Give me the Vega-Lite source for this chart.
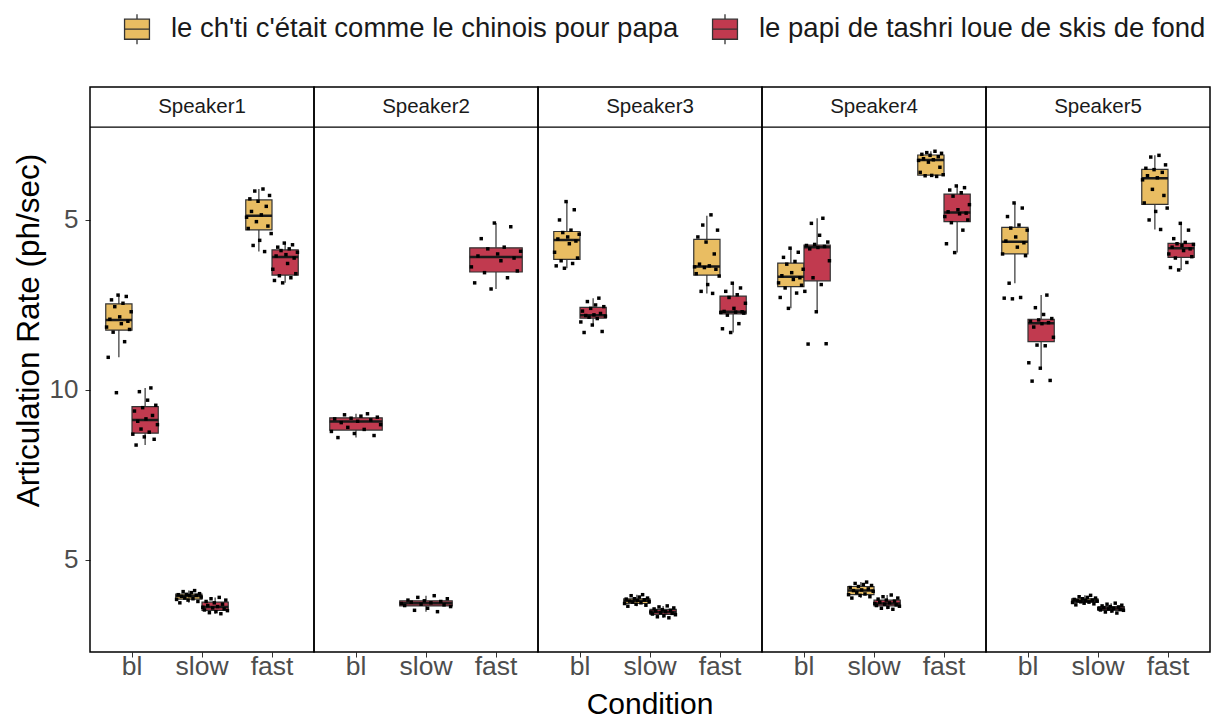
{
"$schema":"https://vega.github.io/schema/vega-lite/v6.json",
"background":"white",
"padding":{"left":13,"top":13,"right":0,"bottom":0},
"data":{"values":[
{"spk":"Speaker1","cond":"bl","sent":"A","lo":10.96,"q1":11.76,"med":12.06,"q3":12.53,"hi":12.79},
{"spk":"Speaker1","cond":"bl","sent":"B","lo":8.38,"q1":8.73,"med":9.12,"q3":9.51,"hi":10.06},
{"spk":"Speaker1","cond":"slow","sent":"A","lo":3.74,"q1":3.85,"med":3.94,"q3":4.0,"hi":4.1},
{"spk":"Speaker1","cond":"slow","sent":"B","lo":3.42,"q1":3.52,"med":3.62,"q3":3.76,"hi":3.9},
{"spk":"Speaker1","cond":"fast","sent":"A","lo":14.07,"q1":14.71,"med":15.12,"q3":15.59,"hi":15.91},
{"spk":"Speaker1","cond":"fast","sent":"B","lo":13.15,"q1":13.38,"med":13.91,"q3":14.12,"hi":14.32},
{"spk":"Speaker2","cond":"bl","sent":"B","lo":8.6,"q1":8.82,"med":9.07,"q3":9.18,"hi":9.3},
{"spk":"Speaker2","cond":"slow","sent":"B","lo":3.48,"q1":3.65,"med":3.73,"q3":3.8,"hi":3.95},
{"spk":"Speaker2","cond":"fast","sent":"B","lo":12.97,"q1":13.47,"med":13.91,"q3":14.18,"hi":14.91},
{"spk":"Speaker3","cond":"bl","sent":"A","lo":13.58,"q1":13.84,"med":14.41,"q3":14.66,"hi":15.54},
{"spk":"Speaker3","cond":"bl","sent":"B","lo":11.91,"q1":12.11,"med":12.2,"q3":12.43,"hi":12.7},
{"spk":"Speaker3","cond":"slow","sent":"A","lo":3.64,"q1":3.72,"med":3.8,"q3":3.86,"hi":3.98},
{"spk":"Speaker3","cond":"slow","sent":"B","lo":3.3,"q1":3.4,"med":3.47,"q3":3.55,"hi":3.65},
{"spk":"Speaker3","cond":"fast","sent":"A","lo":12.84,"q1":13.38,"med":13.63,"q3":14.43,"hi":15.12},
{"spk":"Speaker3","cond":"fast","sent":"B","lo":11.69,"q1":12.24,"med":12.3,"q3":12.76,"hi":13.14},
{"spk":"Speaker4","cond":"bl","sent":"A","lo":12.4,"q1":13.04,"med":13.33,"q3":13.73,"hi":14.17},
{"spk":"Speaker4","cond":"bl","sent":"B","lo":12.3,"q1":13.21,"med":14.2,"q3":14.26,"hi":15.05},
{"spk":"Speaker4","cond":"slow","sent":"A","lo":3.88,"q1":3.98,"med":4.1,"q3":4.22,"hi":4.35},
{"spk":"Speaker4","cond":"slow","sent":"B","lo":3.55,"q1":3.65,"med":3.72,"q3":3.82,"hi":3.97},
{"spk":"Speaker4","cond":"fast","sent":"A","lo":16.28,"q1":16.32,"med":16.76,"q3":16.91,"hi":17.02},
{"spk":"Speaker4","cond":"fast","sent":"B","lo":14.04,"q1":14.95,"med":15.22,"q3":15.76,"hi":16.0},
{"spk":"Speaker5","cond":"bl","sent":"A","lo":13.14,"q1":14.0,"med":14.36,"q3":14.78,"hi":15.5},
{"spk":"Speaker5","cond":"bl","sent":"B","lo":10.64,"q1":11.42,"med":11.96,"q3":12.08,"hi":12.79},
{"spk":"Speaker5","cond":"slow","sent":"A","lo":3.68,"q1":3.75,"med":3.8,"q3":3.86,"hi":3.96},
{"spk":"Speaker5","cond":"slow","sent":"B","lo":3.44,"q1":3.52,"med":3.57,"q3":3.63,"hi":3.73},
{"spk":"Speaker5","cond":"fast","sent":"A","lo":14.72,"q1":15.46,"med":16.23,"q3":16.49,"hi":16.9},
{"spk":"Speaker5","cond":"fast","sent":"B","lo":13.53,"q1":13.9,"med":14.17,"q3":14.31,"hi":14.9},
{"spk":"Speaker1","cond":"bl","sent":"A","tok":7,"rate":9.92},{"spk":"Speaker1","cond":"bl","sent":"A","tok":2,"rate":10.96},{"spk":"Speaker1","cond":"bl","sent":"A","tok":12,"rate":11.42},{"spk":"Speaker1","cond":"bl","sent":"A","tok":5,"rate":11.7},{"spk":"Speaker1","cond":"bl","sent":"A","tok":15,"rate":11.78},{"spk":"Speaker1","cond":"bl","sent":"A","tok":1,"rate":11.85},{"spk":"Speaker1","cond":"bl","sent":"A","tok":10,"rate":11.95},{"spk":"Speaker1","cond":"bl","sent":"A","tok":14,"rate":12.02},{"spk":"Speaker1","cond":"bl","sent":"A","tok":3,"rate":12.08},{"spk":"Speaker1","cond":"bl","sent":"A","tok":9,"rate":12.15},{"spk":"Speaker1","cond":"bl","sent":"A","tok":16,"rate":12.3},{"spk":"Speaker1","cond":"bl","sent":"A","tok":6,"rate":12.45},{"spk":"Speaker1","cond":"bl","sent":"A","tok":11,"rate":12.55},{"spk":"Speaker1","cond":"bl","sent":"A","tok":4,"rate":12.65},{"spk":"Speaker1","cond":"bl","sent":"A","tok":13,"rate":12.75},{"spk":"Speaker1","cond":"bl","sent":"A","tok":8,"rate":12.79},
{"spk":"Speaker1","cond":"bl","sent":"B","tok":19,"rate":8.38},{"spk":"Speaker1","cond":"bl","sent":"B","tok":30,"rate":8.55},{"spk":"Speaker1","cond":"bl","sent":"B","tok":24,"rate":8.62},{"spk":"Speaker1","cond":"bl","sent":"B","tok":17,"rate":8.7},{"spk":"Speaker1","cond":"bl","sent":"B","tok":27,"rate":8.76},{"spk":"Speaker1","cond":"bl","sent":"B","tok":22,"rate":8.85},{"spk":"Speaker1","cond":"bl","sent":"B","tok":32,"rate":8.98},{"spk":"Speaker1","cond":"bl","sent":"B","tok":20,"rate":9.08},{"spk":"Speaker1","cond":"bl","sent":"B","tok":25,"rate":9.15},{"spk":"Speaker1","cond":"bl","sent":"B","tok":29,"rate":9.25},{"spk":"Speaker1","cond":"bl","sent":"B","tok":18,"rate":9.38},{"spk":"Speaker1","cond":"bl","sent":"B","tok":23,"rate":9.48},{"spk":"Speaker1","cond":"bl","sent":"B","tok":31,"rate":9.55},{"spk":"Speaker1","cond":"bl","sent":"B","tok":26,"rate":9.7},{"spk":"Speaker1","cond":"bl","sent":"B","tok":21,"rate":9.95},{"spk":"Speaker1","cond":"bl","sent":"B","tok":28,"rate":10.06},
{"spk":"Speaker1","cond":"slow","sent":"A","tok":3,"rate":3.74},{"spk":"Speaker1","cond":"slow","sent":"A","tok":14,"rate":3.78},{"spk":"Speaker1","cond":"slow","sent":"A","tok":8,"rate":3.82},{"spk":"Speaker1","cond":"slow","sent":"A","tok":1,"rate":3.84},{"spk":"Speaker1","cond":"slow","sent":"A","tok":11,"rate":3.86},{"spk":"Speaker1","cond":"slow","sent":"A","tok":6,"rate":3.88},{"spk":"Speaker1","cond":"slow","sent":"A","tok":16,"rate":3.91},{"spk":"Speaker1","cond":"slow","sent":"A","tok":4,"rate":3.93},{"spk":"Speaker1","cond":"slow","sent":"A","tok":9,"rate":3.95},{"spk":"Speaker1","cond":"slow","sent":"A","tok":13,"rate":3.96},{"spk":"Speaker1","cond":"slow","sent":"A","tok":2,"rate":3.98},{"spk":"Speaker1","cond":"slow","sent":"A","tok":7,"rate":3.99},{"spk":"Speaker1","cond":"slow","sent":"A","tok":15,"rate":4.01},{"spk":"Speaker1","cond":"slow","sent":"A","tok":10,"rate":4.04},{"spk":"Speaker1","cond":"slow","sent":"A","tok":5,"rate":4.07},{"spk":"Speaker1","cond":"slow","sent":"A","tok":12,"rate":4.1},
{"spk":"Speaker1","cond":"slow","sent":"B","tok":28,"rate":3.42},{"spk":"Speaker1","cond":"slow","sent":"B","tok":21,"rate":3.45},{"spk":"Speaker1","cond":"slow","sent":"B","tok":25,"rate":3.48},{"spk":"Speaker1","cond":"slow","sent":"B","tok":32,"rate":3.51},{"spk":"Speaker1","cond":"slow","sent":"B","tok":18,"rate":3.53},{"spk":"Speaker1","cond":"slow","sent":"B","tok":30,"rate":3.56},{"spk":"Speaker1","cond":"slow","sent":"B","tok":23,"rate":3.59},{"spk":"Speaker1","cond":"slow","sent":"B","tok":17,"rate":3.61},{"spk":"Speaker1","cond":"slow","sent":"B","tok":26,"rate":3.63},{"spk":"Speaker1","cond":"slow","sent":"B","tok":20,"rate":3.66},{"spk":"Speaker1","cond":"slow","sent":"B","tok":29,"rate":3.7},{"spk":"Speaker1","cond":"slow","sent":"B","tok":24,"rate":3.74},{"spk":"Speaker1","cond":"slow","sent":"B","tok":19,"rate":3.78},{"spk":"Speaker1","cond":"slow","sent":"B","tok":31,"rate":3.82},{"spk":"Speaker1","cond":"slow","sent":"B","tok":22,"rate":3.86},{"spk":"Speaker1","cond":"slow","sent":"B","tok":27,"rate":3.9},
{"spk":"Speaker1","cond":"fast","sent":"A","tok":12,"rate":14.07},{"spk":"Speaker1","cond":"fast","sent":"A","tok":5,"rate":14.25},{"spk":"Speaker1","cond":"fast","sent":"A","tok":9,"rate":14.4},{"spk":"Speaker1","cond":"fast","sent":"A","tok":16,"rate":14.6},{"spk":"Speaker1","cond":"fast","sent":"A","tok":2,"rate":14.75},{"spk":"Speaker1","cond":"fast","sent":"A","tok":14,"rate":14.82},{"spk":"Speaker1","cond":"fast","sent":"A","tok":7,"rate":14.95},{"spk":"Speaker1","cond":"fast","sent":"A","tok":1,"rate":15.08},{"spk":"Speaker1","cond":"fast","sent":"A","tok":10,"rate":15.15},{"spk":"Speaker1","cond":"fast","sent":"A","tok":4,"rate":15.25},{"spk":"Speaker1","cond":"fast","sent":"A","tok":13,"rate":15.4},{"spk":"Speaker1","cond":"fast","sent":"A","tok":8,"rate":15.55},{"spk":"Speaker1","cond":"fast","sent":"A","tok":3,"rate":15.62},{"spk":"Speaker1","cond":"fast","sent":"A","tok":15,"rate":15.72},{"spk":"Speaker1","cond":"fast","sent":"A","tok":6,"rate":15.85},{"spk":"Speaker1","cond":"fast","sent":"A","tok":11,"rate":15.91},
{"spk":"Speaker1","cond":"fast","sent":"B","tok":23,"rate":13.15},{"spk":"Speaker1","cond":"fast","sent":"B","tok":18,"rate":13.22},{"spk":"Speaker1","cond":"fast","sent":"B","tok":28,"rate":13.3},{"spk":"Speaker1","cond":"fast","sent":"B","tok":21,"rate":13.36},{"spk":"Speaker1","cond":"fast","sent":"B","tok":31,"rate":13.42},{"spk":"Speaker1","cond":"fast","sent":"B","tok":17,"rate":13.55},{"spk":"Speaker1","cond":"fast","sent":"B","tok":26,"rate":13.72},{"spk":"Speaker1","cond":"fast","sent":"B","tok":30,"rate":13.88},{"spk":"Speaker1","cond":"fast","sent":"B","tok":19,"rate":13.94},{"spk":"Speaker1","cond":"fast","sent":"B","tok":25,"rate":13.98},{"spk":"Speaker1","cond":"fast","sent":"B","tok":32,"rate":14.05},{"spk":"Speaker1","cond":"fast","sent":"B","tok":22,"rate":14.1},{"spk":"Speaker1","cond":"fast","sent":"B","tok":27,"rate":14.15},{"spk":"Speaker1","cond":"fast","sent":"B","tok":20,"rate":14.2},{"spk":"Speaker1","cond":"fast","sent":"B","tok":29,"rate":14.27},{"spk":"Speaker1","cond":"fast","sent":"B","tok":24,"rate":14.32},
{"spk":"Speaker2","cond":"bl","sent":"B","tok":19,"rate":8.6},{"spk":"Speaker2","cond":"bl","sent":"B","tok":30,"rate":8.66},{"spk":"Speaker2","cond":"bl","sent":"B","tok":24,"rate":8.72},{"spk":"Speaker2","cond":"bl","sent":"B","tok":17,"rate":8.78},{"spk":"Speaker2","cond":"bl","sent":"B","tok":27,"rate":8.84},{"spk":"Speaker2","cond":"bl","sent":"B","tok":22,"rate":8.9},{"spk":"Speaker2","cond":"bl","sent":"B","tok":32,"rate":8.98},{"spk":"Speaker2","cond":"bl","sent":"B","tok":20,"rate":9.04},{"spk":"Speaker2","cond":"bl","sent":"B","tok":25,"rate":9.08},{"spk":"Speaker2","cond":"bl","sent":"B","tok":29,"rate":9.12},{"spk":"Speaker2","cond":"bl","sent":"B","tok":18,"rate":9.15},{"spk":"Speaker2","cond":"bl","sent":"B","tok":23,"rate":9.17},{"spk":"Speaker2","cond":"bl","sent":"B","tok":31,"rate":9.2},{"spk":"Speaker2","cond":"bl","sent":"B","tok":26,"rate":9.23},{"spk":"Speaker2","cond":"bl","sent":"B","tok":21,"rate":9.27},{"spk":"Speaker2","cond":"bl","sent":"B","tok":28,"rate":9.3},
{"spk":"Speaker2","cond":"slow","sent":"B","tok":28,"rate":3.48},{"spk":"Speaker2","cond":"slow","sent":"B","tok":21,"rate":3.52},{"spk":"Speaker2","cond":"slow","sent":"B","tok":25,"rate":3.58},{"spk":"Speaker2","cond":"slow","sent":"B","tok":32,"rate":3.63},{"spk":"Speaker2","cond":"slow","sent":"B","tok":18,"rate":3.66},{"spk":"Speaker2","cond":"slow","sent":"B","tok":30,"rate":3.68},{"spk":"Speaker2","cond":"slow","sent":"B","tok":23,"rate":3.7},{"spk":"Speaker2","cond":"slow","sent":"B","tok":17,"rate":3.72},{"spk":"Speaker2","cond":"slow","sent":"B","tok":26,"rate":3.74},{"spk":"Speaker2","cond":"slow","sent":"B","tok":20,"rate":3.76},{"spk":"Speaker2","cond":"slow","sent":"B","tok":29,"rate":3.78},{"spk":"Speaker2","cond":"slow","sent":"B","tok":24,"rate":3.8},{"spk":"Speaker2","cond":"slow","sent":"B","tok":19,"rate":3.82},{"spk":"Speaker2","cond":"slow","sent":"B","tok":31,"rate":3.86},{"spk":"Speaker2","cond":"slow","sent":"B","tok":22,"rate":3.9},{"spk":"Speaker2","cond":"slow","sent":"B","tok":27,"rate":3.95},
{"spk":"Speaker2","cond":"fast","sent":"B","tok":23,"rate":12.97},{"spk":"Speaker2","cond":"fast","sent":"B","tok":18,"rate":13.15},{"spk":"Speaker2","cond":"fast","sent":"B","tok":28,"rate":13.3},{"spk":"Speaker2","cond":"fast","sent":"B","tok":21,"rate":13.45},{"spk":"Speaker2","cond":"fast","sent":"B","tok":31,"rate":13.5},{"spk":"Speaker2","cond":"fast","sent":"B","tok":17,"rate":13.62},{"spk":"Speaker2","cond":"fast","sent":"B","tok":26,"rate":13.8},{"spk":"Speaker2","cond":"fast","sent":"B","tok":30,"rate":13.88},{"spk":"Speaker2","cond":"fast","sent":"B","tok":19,"rate":13.94},{"spk":"Speaker2","cond":"fast","sent":"B","tok":25,"rate":14.0},{"spk":"Speaker2","cond":"fast","sent":"B","tok":32,"rate":14.08},{"spk":"Speaker2","cond":"fast","sent":"B","tok":22,"rate":14.15},{"spk":"Speaker2","cond":"fast","sent":"B","tok":27,"rate":14.2},{"spk":"Speaker2","cond":"fast","sent":"B","tok":20,"rate":14.45},{"spk":"Speaker2","cond":"fast","sent":"B","tok":29,"rate":14.8},{"spk":"Speaker2","cond":"fast","sent":"B","tok":24,"rate":14.91},
{"spk":"Speaker3","cond":"bl","sent":"A","tok":7,"rate":13.58},{"spk":"Speaker3","cond":"bl","sent":"A","tok":2,"rate":13.65},{"spk":"Speaker3","cond":"bl","sent":"A","tok":12,"rate":13.72},{"spk":"Speaker3","cond":"bl","sent":"A","tok":5,"rate":13.8},{"spk":"Speaker3","cond":"bl","sent":"A","tok":15,"rate":13.88},{"spk":"Speaker3","cond":"bl","sent":"A","tok":1,"rate":14.05},{"spk":"Speaker3","cond":"bl","sent":"A","tok":10,"rate":14.3},{"spk":"Speaker3","cond":"bl","sent":"A","tok":14,"rate":14.38},{"spk":"Speaker3","cond":"bl","sent":"A","tok":3,"rate":14.44},{"spk":"Speaker3","cond":"bl","sent":"A","tok":9,"rate":14.5},{"spk":"Speaker3","cond":"bl","sent":"A","tok":16,"rate":14.58},{"spk":"Speaker3","cond":"bl","sent":"A","tok":6,"rate":14.63},{"spk":"Speaker3","cond":"bl","sent":"A","tok":11,"rate":14.7},{"spk":"Speaker3","cond":"bl","sent":"A","tok":4,"rate":15.0},{"spk":"Speaker3","cond":"bl","sent":"A","tok":13,"rate":15.3},{"spk":"Speaker3","cond":"bl","sent":"A","tok":8,"rate":15.54},
{"spk":"Speaker3","cond":"bl","sent":"B","tok":19,"rate":11.69},{"spk":"Speaker3","cond":"bl","sent":"B","tok":30,"rate":11.72},{"spk":"Speaker3","cond":"bl","sent":"B","tok":24,"rate":11.91},{"spk":"Speaker3","cond":"bl","sent":"B","tok":17,"rate":12.0},{"spk":"Speaker3","cond":"bl","sent":"B","tok":27,"rate":12.1},{"spk":"Speaker3","cond":"bl","sent":"B","tok":22,"rate":12.14},{"spk":"Speaker3","cond":"bl","sent":"B","tok":32,"rate":12.17},{"spk":"Speaker3","cond":"bl","sent":"B","tok":20,"rate":12.19},{"spk":"Speaker3","cond":"bl","sent":"B","tok":25,"rate":12.21},{"spk":"Speaker3","cond":"bl","sent":"B","tok":29,"rate":12.25},{"spk":"Speaker3","cond":"bl","sent":"B","tok":18,"rate":12.32},{"spk":"Speaker3","cond":"bl","sent":"B","tok":23,"rate":12.4},{"spk":"Speaker3","cond":"bl","sent":"B","tok":31,"rate":12.45},{"spk":"Speaker3","cond":"bl","sent":"B","tok":26,"rate":12.5},{"spk":"Speaker3","cond":"bl","sent":"B","tok":21,"rate":12.6},{"spk":"Speaker3","cond":"bl","sent":"B","tok":28,"rate":12.7},
{"spk":"Speaker3","cond":"slow","sent":"A","tok":3,"rate":3.64},{"spk":"Speaker3","cond":"slow","sent":"A","tok":14,"rate":3.67},{"spk":"Speaker3","cond":"slow","sent":"A","tok":8,"rate":3.7},{"spk":"Speaker3","cond":"slow","sent":"A","tok":1,"rate":3.72},{"spk":"Speaker3","cond":"slow","sent":"A","tok":11,"rate":3.74},{"spk":"Speaker3","cond":"slow","sent":"A","tok":6,"rate":3.76},{"spk":"Speaker3","cond":"slow","sent":"A","tok":16,"rate":3.78},{"spk":"Speaker3","cond":"slow","sent":"A","tok":4,"rate":3.79},{"spk":"Speaker3","cond":"slow","sent":"A","tok":9,"rate":3.81},{"spk":"Speaker3","cond":"slow","sent":"A","tok":13,"rate":3.83},{"spk":"Speaker3","cond":"slow","sent":"A","tok":2,"rate":3.85},{"spk":"Speaker3","cond":"slow","sent":"A","tok":7,"rate":3.86},{"spk":"Speaker3","cond":"slow","sent":"A","tok":15,"rate":3.88},{"spk":"Speaker3","cond":"slow","sent":"A","tok":10,"rate":3.91},{"spk":"Speaker3","cond":"slow","sent":"A","tok":5,"rate":3.95},{"spk":"Speaker3","cond":"slow","sent":"A","tok":12,"rate":3.98},
{"spk":"Speaker3","cond":"slow","sent":"B","tok":28,"rate":3.3},{"spk":"Speaker3","cond":"slow","sent":"B","tok":21,"rate":3.33},{"spk":"Speaker3","cond":"slow","sent":"B","tok":25,"rate":3.36},{"spk":"Speaker3","cond":"slow","sent":"B","tok":32,"rate":3.39},{"spk":"Speaker3","cond":"slow","sent":"B","tok":18,"rate":3.41},{"spk":"Speaker3","cond":"slow","sent":"B","tok":30,"rate":3.43},{"spk":"Speaker3","cond":"slow","sent":"B","tok":23,"rate":3.45},{"spk":"Speaker3","cond":"slow","sent":"B","tok":17,"rate":3.47},{"spk":"Speaker3","cond":"slow","sent":"B","tok":26,"rate":3.48},{"spk":"Speaker3","cond":"slow","sent":"B","tok":20,"rate":3.5},{"spk":"Speaker3","cond":"slow","sent":"B","tok":29,"rate":3.52},{"spk":"Speaker3","cond":"slow","sent":"B","tok":24,"rate":3.54},{"spk":"Speaker3","cond":"slow","sent":"B","tok":19,"rate":3.56},{"spk":"Speaker3","cond":"slow","sent":"B","tok":31,"rate":3.59},{"spk":"Speaker3","cond":"slow","sent":"B","tok":22,"rate":3.62},{"spk":"Speaker3","cond":"slow","sent":"B","tok":27,"rate":3.65},
{"spk":"Speaker3","cond":"fast","sent":"A","tok":12,"rate":12.84},{"spk":"Speaker3","cond":"fast","sent":"A","tok":5,"rate":12.9},{"spk":"Speaker3","cond":"fast","sent":"A","tok":9,"rate":13.1},{"spk":"Speaker3","cond":"fast","sent":"A","tok":16,"rate":13.35},{"spk":"Speaker3","cond":"fast","sent":"A","tok":2,"rate":13.42},{"spk":"Speaker3","cond":"fast","sent":"A","tok":14,"rate":13.55},{"spk":"Speaker3","cond":"fast","sent":"A","tok":7,"rate":13.6},{"spk":"Speaker3","cond":"fast","sent":"A","tok":1,"rate":13.62},{"spk":"Speaker3","cond":"fast","sent":"A","tok":10,"rate":13.65},{"spk":"Speaker3","cond":"fast","sent":"A","tok":4,"rate":13.7},{"spk":"Speaker3","cond":"fast","sent":"A","tok":13,"rate":14.0},{"spk":"Speaker3","cond":"fast","sent":"A","tok":8,"rate":14.35},{"spk":"Speaker3","cond":"fast","sent":"A","tok":3,"rate":14.5},{"spk":"Speaker3","cond":"fast","sent":"A","tok":15,"rate":14.7},{"spk":"Speaker3","cond":"fast","sent":"A","tok":6,"rate":14.85},{"spk":"Speaker3","cond":"fast","sent":"A","tok":11,"rate":15.15},
{"spk":"Speaker3","cond":"fast","sent":"B","tok":23,"rate":11.69},{"spk":"Speaker3","cond":"fast","sent":"B","tok":18,"rate":11.8},{"spk":"Speaker3","cond":"fast","sent":"B","tok":28,"rate":11.95},{"spk":"Speaker3","cond":"fast","sent":"B","tok":21,"rate":12.2},{"spk":"Speaker3","cond":"fast","sent":"B","tok":31,"rate":12.26},{"spk":"Speaker3","cond":"fast","sent":"B","tok":17,"rate":12.28},{"spk":"Speaker3","cond":"fast","sent":"B","tok":26,"rate":12.29},{"spk":"Speaker3","cond":"fast","sent":"B","tok":30,"rate":12.3},{"spk":"Speaker3","cond":"fast","sent":"B","tok":19,"rate":12.31},{"spk":"Speaker3","cond":"fast","sent":"B","tok":25,"rate":12.4},{"spk":"Speaker3","cond":"fast","sent":"B","tok":32,"rate":12.55},{"spk":"Speaker3","cond":"fast","sent":"B","tok":22,"rate":12.72},{"spk":"Speaker3","cond":"fast","sent":"B","tok":27,"rate":12.8},{"spk":"Speaker3","cond":"fast","sent":"B","tok":20,"rate":12.9},{"spk":"Speaker3","cond":"fast","sent":"B","tok":29,"rate":13.0},{"spk":"Speaker3","cond":"fast","sent":"B","tok":24,"rate":13.14},
{"spk":"Speaker4","cond":"bl","sent":"A","tok":7,"rate":12.4},{"spk":"Speaker4","cond":"bl","sent":"A","tok":2,"rate":12.72},{"spk":"Speaker4","cond":"bl","sent":"A","tok":12,"rate":12.85},{"spk":"Speaker4","cond":"bl","sent":"A","tok":5,"rate":13.0},{"spk":"Speaker4","cond":"bl","sent":"A","tok":15,"rate":13.08},{"spk":"Speaker4","cond":"bl","sent":"A","tok":1,"rate":13.15},{"spk":"Speaker4","cond":"bl","sent":"A","tok":10,"rate":13.25},{"spk":"Speaker4","cond":"bl","sent":"A","tok":14,"rate":13.3},{"spk":"Speaker4","cond":"bl","sent":"A","tok":3,"rate":13.36},{"spk":"Speaker4","cond":"bl","sent":"A","tok":9,"rate":13.45},{"spk":"Speaker4","cond":"bl","sent":"A","tok":16,"rate":13.55},{"spk":"Speaker4","cond":"bl","sent":"A","tok":6,"rate":13.7},{"spk":"Speaker4","cond":"bl","sent":"A","tok":11,"rate":13.78},{"spk":"Speaker4","cond":"bl","sent":"A","tok":4,"rate":13.9},{"spk":"Speaker4","cond":"bl","sent":"A","tok":13,"rate":14.05},{"spk":"Speaker4","cond":"bl","sent":"A","tok":8,"rate":14.17},
{"spk":"Speaker4","cond":"bl","sent":"B","tok":19,"rate":11.35},{"spk":"Speaker4","cond":"bl","sent":"B","tok":30,"rate":11.36},{"spk":"Speaker4","cond":"bl","sent":"B","tok":24,"rate":12.3},{"spk":"Speaker4","cond":"bl","sent":"B","tok":17,"rate":12.9},{"spk":"Speaker4","cond":"bl","sent":"B","tok":27,"rate":13.1},{"spk":"Speaker4","cond":"bl","sent":"B","tok":22,"rate":13.3},{"spk":"Speaker4","cond":"bl","sent":"B","tok":32,"rate":13.8},{"spk":"Speaker4","cond":"bl","sent":"B","tok":20,"rate":14.15},{"spk":"Speaker4","cond":"bl","sent":"B","tok":25,"rate":14.19},{"spk":"Speaker4","cond":"bl","sent":"B","tok":29,"rate":14.22},{"spk":"Speaker4","cond":"bl","sent":"B","tok":18,"rate":14.25},{"spk":"Speaker4","cond":"bl","sent":"B","tok":23,"rate":14.28},{"spk":"Speaker4","cond":"bl","sent":"B","tok":31,"rate":14.35},{"spk":"Speaker4","cond":"bl","sent":"B","tok":26,"rate":14.55},{"spk":"Speaker4","cond":"bl","sent":"B","tok":21,"rate":14.9},{"spk":"Speaker4","cond":"bl","sent":"B","tok":28,"rate":15.05},
{"spk":"Speaker4","cond":"slow","sent":"A","tok":3,"rate":3.88},{"spk":"Speaker4","cond":"slow","sent":"A","tok":14,"rate":3.92},{"spk":"Speaker4","cond":"slow","sent":"A","tok":8,"rate":3.96},{"spk":"Speaker4","cond":"slow","sent":"A","tok":1,"rate":3.98},{"spk":"Speaker4","cond":"slow","sent":"A","tok":11,"rate":4.0},{"spk":"Speaker4","cond":"slow","sent":"A","tok":6,"rate":4.04},{"spk":"Speaker4","cond":"slow","sent":"A","tok":16,"rate":4.08},{"spk":"Speaker4","cond":"slow","sent":"A","tok":4,"rate":4.1},{"spk":"Speaker4","cond":"slow","sent":"A","tok":9,"rate":4.12},{"spk":"Speaker4","cond":"slow","sent":"A","tok":13,"rate":4.15},{"spk":"Speaker4","cond":"slow","sent":"A","tok":2,"rate":4.19},{"spk":"Speaker4","cond":"slow","sent":"A","tok":7,"rate":4.22},{"spk":"Speaker4","cond":"slow","sent":"A","tok":15,"rate":4.25},{"spk":"Speaker4","cond":"slow","sent":"A","tok":10,"rate":4.28},{"spk":"Speaker4","cond":"slow","sent":"A","tok":5,"rate":4.31},{"spk":"Speaker4","cond":"slow","sent":"A","tok":12,"rate":4.35},
{"spk":"Speaker4","cond":"slow","sent":"B","tok":28,"rate":3.55},{"spk":"Speaker4","cond":"slow","sent":"B","tok":21,"rate":3.58},{"spk":"Speaker4","cond":"slow","sent":"B","tok":25,"rate":3.61},{"spk":"Speaker4","cond":"slow","sent":"B","tok":32,"rate":3.64},{"spk":"Speaker4","cond":"slow","sent":"B","tok":18,"rate":3.66},{"spk":"Speaker4","cond":"slow","sent":"B","tok":30,"rate":3.68},{"spk":"Speaker4","cond":"slow","sent":"B","tok":23,"rate":3.7},{"spk":"Speaker4","cond":"slow","sent":"B","tok":17,"rate":3.72},{"spk":"Speaker4","cond":"slow","sent":"B","tok":26,"rate":3.74},{"spk":"Speaker4","cond":"slow","sent":"B","tok":20,"rate":3.76},{"spk":"Speaker4","cond":"slow","sent":"B","tok":29,"rate":3.79},{"spk":"Speaker4","cond":"slow","sent":"B","tok":24,"rate":3.82},{"spk":"Speaker4","cond":"slow","sent":"B","tok":19,"rate":3.85},{"spk":"Speaker4","cond":"slow","sent":"B","tok":31,"rate":3.88},{"spk":"Speaker4","cond":"slow","sent":"B","tok":22,"rate":3.92},{"spk":"Speaker4","cond":"slow","sent":"B","tok":27,"rate":3.97},
{"spk":"Speaker4","cond":"fast","sent":"A","tok":12,"rate":16.28},{"spk":"Speaker4","cond":"fast","sent":"A","tok":5,"rate":16.3},{"spk":"Speaker4","cond":"fast","sent":"A","tok":9,"rate":16.31},{"spk":"Speaker4","cond":"fast","sent":"A","tok":16,"rate":16.33},{"spk":"Speaker4","cond":"fast","sent":"A","tok":2,"rate":16.4},{"spk":"Speaker4","cond":"fast","sent":"A","tok":14,"rate":16.55},{"spk":"Speaker4","cond":"fast","sent":"A","tok":7,"rate":16.7},{"spk":"Speaker4","cond":"fast","sent":"A","tok":1,"rate":16.75},{"spk":"Speaker4","cond":"fast","sent":"A","tok":10,"rate":16.77},{"spk":"Speaker4","cond":"fast","sent":"A","tok":4,"rate":16.8},{"spk":"Speaker4","cond":"fast","sent":"A","tok":13,"rate":16.86},{"spk":"Speaker4","cond":"fast","sent":"A","tok":8,"rate":16.9},{"spk":"Speaker4","cond":"fast","sent":"A","tok":3,"rate":16.93},{"spk":"Speaker4","cond":"fast","sent":"A","tok":15,"rate":16.96},{"spk":"Speaker4","cond":"fast","sent":"A","tok":6,"rate":16.98},{"spk":"Speaker4","cond":"fast","sent":"A","tok":11,"rate":17.02},
{"spk":"Speaker4","cond":"fast","sent":"B","tok":23,"rate":14.04},{"spk":"Speaker4","cond":"fast","sent":"B","tok":18,"rate":14.3},{"spk":"Speaker4","cond":"fast","sent":"B","tok":28,"rate":14.7},{"spk":"Speaker4","cond":"fast","sent":"B","tok":21,"rate":14.92},{"spk":"Speaker4","cond":"fast","sent":"B","tok":31,"rate":15.0},{"spk":"Speaker4","cond":"fast","sent":"B","tok":17,"rate":15.1},{"spk":"Speaker4","cond":"fast","sent":"B","tok":26,"rate":15.18},{"spk":"Speaker4","cond":"fast","sent":"B","tok":30,"rate":15.2},{"spk":"Speaker4","cond":"fast","sent":"B","tok":19,"rate":15.24},{"spk":"Speaker4","cond":"fast","sent":"B","tok":25,"rate":15.3},{"spk":"Speaker4","cond":"fast","sent":"B","tok":32,"rate":15.45},{"spk":"Speaker4","cond":"fast","sent":"B","tok":22,"rate":15.7},{"spk":"Speaker4","cond":"fast","sent":"B","tok":27,"rate":15.8},{"spk":"Speaker4","cond":"fast","sent":"B","tok":20,"rate":15.88},{"spk":"Speaker4","cond":"fast","sent":"B","tok":29,"rate":15.95},{"spk":"Speaker4","cond":"fast","sent":"B","tok":24,"rate":16.0},
{"spk":"Speaker5","cond":"bl","sent":"A","tok":7,"rate":12.68},{"spk":"Speaker5","cond":"bl","sent":"A","tok":2,"rate":12.7},{"spk":"Speaker5","cond":"bl","sent":"A","tok":12,"rate":12.72},{"spk":"Speaker5","cond":"bl","sent":"A","tok":5,"rate":13.14},{"spk":"Speaker5","cond":"bl","sent":"A","tok":15,"rate":13.95},{"spk":"Speaker5","cond":"bl","sent":"A","tok":1,"rate":14.0},{"spk":"Speaker5","cond":"bl","sent":"A","tok":10,"rate":14.2},{"spk":"Speaker5","cond":"bl","sent":"A","tok":14,"rate":14.33},{"spk":"Speaker5","cond":"bl","sent":"A","tok":3,"rate":14.38},{"spk":"Speaker5","cond":"bl","sent":"A","tok":9,"rate":14.5},{"spk":"Speaker5","cond":"bl","sent":"A","tok":16,"rate":14.7},{"spk":"Speaker5","cond":"bl","sent":"A","tok":6,"rate":14.76},{"spk":"Speaker5","cond":"bl","sent":"A","tok":11,"rate":14.85},{"spk":"Speaker5","cond":"bl","sent":"A","tok":4,"rate":15.1},{"spk":"Speaker5","cond":"bl","sent":"A","tok":13,"rate":15.35},{"spk":"Speaker5","cond":"bl","sent":"A","tok":8,"rate":15.5},
{"spk":"Speaker5","cond":"bl","sent":"B","tok":19,"rate":10.26},{"spk":"Speaker5","cond":"bl","sent":"B","tok":30,"rate":10.28},{"spk":"Speaker5","cond":"bl","sent":"B","tok":24,"rate":10.64},{"spk":"Speaker5","cond":"bl","sent":"B","tok":17,"rate":10.8},{"spk":"Speaker5","cond":"bl","sent":"B","tok":27,"rate":11.3},{"spk":"Speaker5","cond":"bl","sent":"B","tok":22,"rate":11.32},{"spk":"Speaker5","cond":"bl","sent":"B","tok":32,"rate":11.55},{"spk":"Speaker5","cond":"bl","sent":"B","tok":20,"rate":11.85},{"spk":"Speaker5","cond":"bl","sent":"B","tok":25,"rate":11.95},{"spk":"Speaker5","cond":"bl","sent":"B","tok":29,"rate":11.98},{"spk":"Speaker5","cond":"bl","sent":"B","tok":18,"rate":12.02},{"spk":"Speaker5","cond":"bl","sent":"B","tok":23,"rate":12.06},{"spk":"Speaker5","cond":"bl","sent":"B","tok":31,"rate":12.1},{"spk":"Speaker5","cond":"bl","sent":"B","tok":26,"rate":12.22},{"spk":"Speaker5","cond":"bl","sent":"B","tok":21,"rate":12.42},{"spk":"Speaker5","cond":"bl","sent":"B","tok":28,"rate":12.79},
{"spk":"Speaker5","cond":"slow","sent":"A","tok":3,"rate":3.68},{"spk":"Speaker5","cond":"slow","sent":"A","tok":14,"rate":3.71},{"spk":"Speaker5","cond":"slow","sent":"A","tok":8,"rate":3.73},{"spk":"Speaker5","cond":"slow","sent":"A","tok":1,"rate":3.75},{"spk":"Speaker5","cond":"slow","sent":"A","tok":11,"rate":3.76},{"spk":"Speaker5","cond":"slow","sent":"A","tok":6,"rate":3.77},{"spk":"Speaker5","cond":"slow","sent":"A","tok":16,"rate":3.79},{"spk":"Speaker5","cond":"slow","sent":"A","tok":4,"rate":3.8},{"spk":"Speaker5","cond":"slow","sent":"A","tok":9,"rate":3.81},{"spk":"Speaker5","cond":"slow","sent":"A","tok":13,"rate":3.82},{"spk":"Speaker5","cond":"slow","sent":"A","tok":2,"rate":3.84},{"spk":"Speaker5","cond":"slow","sent":"A","tok":7,"rate":3.86},{"spk":"Speaker5","cond":"slow","sent":"A","tok":15,"rate":3.88},{"spk":"Speaker5","cond":"slow","sent":"A","tok":10,"rate":3.9},{"spk":"Speaker5","cond":"slow","sent":"A","tok":5,"rate":3.92},{"spk":"Speaker5","cond":"slow","sent":"A","tok":12,"rate":3.96},
{"spk":"Speaker5","cond":"slow","sent":"B","tok":28,"rate":3.44},{"spk":"Speaker5","cond":"slow","sent":"B","tok":21,"rate":3.47},{"spk":"Speaker5","cond":"slow","sent":"B","tok":25,"rate":3.5},{"spk":"Speaker5","cond":"slow","sent":"B","tok":32,"rate":3.52},{"spk":"Speaker5","cond":"slow","sent":"B","tok":18,"rate":3.53},{"spk":"Speaker5","cond":"slow","sent":"B","tok":30,"rate":3.54},{"spk":"Speaker5","cond":"slow","sent":"B","tok":23,"rate":3.56},{"spk":"Speaker5","cond":"slow","sent":"B","tok":17,"rate":3.57},{"spk":"Speaker5","cond":"slow","sent":"B","tok":26,"rate":3.58},{"spk":"Speaker5","cond":"slow","sent":"B","tok":20,"rate":3.6},{"spk":"Speaker5","cond":"slow","sent":"B","tok":29,"rate":3.62},{"spk":"Speaker5","cond":"slow","sent":"B","tok":24,"rate":3.63},{"spk":"Speaker5","cond":"slow","sent":"B","tok":19,"rate":3.65},{"spk":"Speaker5","cond":"slow","sent":"B","tok":31,"rate":3.67},{"spk":"Speaker5","cond":"slow","sent":"B","tok":22,"rate":3.7},{"spk":"Speaker5","cond":"slow","sent":"B","tok":27,"rate":3.73},
{"spk":"Speaker5","cond":"fast","sent":"A","tok":12,"rate":14.72},{"spk":"Speaker5","cond":"fast","sent":"A","tok":5,"rate":15.0},{"spk":"Speaker5","cond":"fast","sent":"A","tok":9,"rate":15.25},{"spk":"Speaker5","cond":"fast","sent":"A","tok":16,"rate":15.35},{"spk":"Speaker5","cond":"fast","sent":"A","tok":2,"rate":15.5},{"spk":"Speaker5","cond":"fast","sent":"A","tok":14,"rate":15.72},{"spk":"Speaker5","cond":"fast","sent":"A","tok":7,"rate":15.9},{"spk":"Speaker5","cond":"fast","sent":"A","tok":1,"rate":16.18},{"spk":"Speaker5","cond":"fast","sent":"A","tok":10,"rate":16.24},{"spk":"Speaker5","cond":"fast","sent":"A","tok":4,"rate":16.3},{"spk":"Speaker5","cond":"fast","sent":"A","tok":13,"rate":16.4},{"spk":"Speaker5","cond":"fast","sent":"A","tok":8,"rate":16.48},{"spk":"Speaker5","cond":"fast","sent":"A","tok":3,"rate":16.52},{"spk":"Speaker5","cond":"fast","sent":"A","tok":15,"rate":16.62},{"spk":"Speaker5","cond":"fast","sent":"A","tok":6,"rate":16.85},{"spk":"Speaker5","cond":"fast","sent":"A","tok":11,"rate":16.9},
{"spk":"Speaker5","cond":"fast","sent":"B","tok":23,"rate":13.53},{"spk":"Speaker5","cond":"fast","sent":"B","tok":18,"rate":13.6},{"spk":"Speaker5","cond":"fast","sent":"B","tok":28,"rate":13.75},{"spk":"Speaker5","cond":"fast","sent":"B","tok":21,"rate":13.88},{"spk":"Speaker5","cond":"fast","sent":"B","tok":31,"rate":13.92},{"spk":"Speaker5","cond":"fast","sent":"B","tok":17,"rate":14.0},{"spk":"Speaker5","cond":"fast","sent":"B","tok":26,"rate":14.1},{"spk":"Speaker5","cond":"fast","sent":"B","tok":30,"rate":14.15},{"spk":"Speaker5","cond":"fast","sent":"B","tok":19,"rate":14.2},{"spk":"Speaker5","cond":"fast","sent":"B","tok":25,"rate":14.25},{"spk":"Speaker5","cond":"fast","sent":"B","tok":32,"rate":14.28},{"spk":"Speaker5","cond":"fast","sent":"B","tok":22,"rate":14.3},{"spk":"Speaker5","cond":"fast","sent":"B","tok":27,"rate":14.34},{"spk":"Speaker5","cond":"fast","sent":"B","tok":20,"rate":14.45},{"spk":"Speaker5","cond":"fast","sent":"B","tok":29,"rate":14.7},{"spk":"Speaker5","cond":"fast","sent":"B","tok":24,"rate":14.9}
]},
"facet":{"column":{"field":"spk","type":"nominal","title":"Condition","header":{"labels":false,"titleOrient":"bottom","titleFontSize":30,"titleFont":"Liberation Sans","titleFontWeight":"normal","titleColor":"black","titlePadding":0}}},
"spacing":0,
"bounds":"flush",
"resolve":{"scale":{"xOffset":"independent"}},
"spec":{
"width":224,"height":565,
"resolve":{"scale":{"xOffset":"independent"}},
"layer":[
{"transform":[{"filter":"isValid(datum.med)"},{"aggregate":[{"op":"count","as":"n"}],"groupby":["spk"]}],
 "mark":{"type":"rule","color":"black","strokeWidth":1.3},
 "encoding":{"y":{"datum":17.73,"type":"quantitative","scale":{"domain":[2.294,18.91],"nice":false,"zero":false},
   "axis":{"title":"Articulation Rate (ph/sec)","titleY":243,"values":[5,10,15],"labelExpr":"datum.value == 15 ? '5' : datum.label","grid":false,"domain":false,"tickColor":"#333333","tickSize":5,"labelFontSize":26,"labelColor":"#4d4d4d","labelPadding":7,"titleFontSize":31.5,"titleFontWeight":"normal","titleColor":"black","titlePadding":4}}}},
{"transform":[{"filter":"isValid(datum.med)"},{"aggregate":[{"op":"count","as":"n"}],"groupby":["spk"]}],
 "mark":{"type":"text","fontSize":20.5,"color":"#1a1a1a","baseline":"middle","align":"center"},
 "encoding":{"text":{"field":"spk"},"y":{"datum":18.32,"type":"quantitative","title":"Articulation Rate (ph/sec)"}}},
{"transform":[{"filter":"isValid(datum.med)"}],"mark":{"type":"rule","color":"#333333","strokeWidth":1.2},
 "encoding":{"x":{"field":"cond","type":"nominal","sort":["bl","slow","fast"]},"xOffset":{"field":"sent","type":"nominal"},
  "y":{"field":"lo","type":"quantitative","title":"Articulation Rate (ph/sec)"},"y2":{"field":"q1"}}},
{"transform":[{"filter":"isValid(datum.med)"}],"mark":{"type":"rule","color":"#333333","strokeWidth":1.2},
 "encoding":{"x":{"field":"cond","type":"nominal","sort":["bl","slow","fast"]},"xOffset":{"field":"sent","type":"nominal"},
  "y":{"field":"q3","type":"quantitative","title":"Articulation Rate (ph/sec)"},"y2":{"field":"hi"}}},
{"transform":[{"filter":"isValid(datum.med)"}],"mark":{"type":"bar","stroke":"#333333","strokeWidth":1.2},
 "encoding":{
  "x":{"field":"cond","type":"nominal","sort":["bl","slow","fast"],"scale":{"paddingInner":0.25,"paddingOuter":0.225},
   "axis":{"title":null,"labelFontSize":26.5,"labelColor":"#4d4d4d","tickColor":"#333333","tickSize":5,"domain":false,"labelPadding":9,"labelAngle":0,"labelAlign":"center"}},
  "xOffset":{"field":"sent","type":"nominal"},
  "y":{"field":"q1","type":"quantitative","title":"Articulation Rate (ph/sec)"},
  "y2":{"field":"q3"},
  "color":{"field":"sent","type":"nominal","scale":{"domain":["A","B"],"range":["#E9BD62","#C13A4F"]},
   "legend":{"orient":"none","legendX":31,"legendY":-74,"direction":"horizontal","title":null,
    "labelExpr":"datum.value == 'A' ? \"le ch'ti c'était comme le chinois pour papa\" : 'le papi de tashri loue de skis de fond'",
    "labelFontSize":27.5,"labelColor":"#1a1a1a","labelOffset":18,"labelLimit":1000,"columnPadding":30,"symbolSize":900,
    "symbolType":"M-0.83,-0.67H0.83V0.67H-0.83Z M0,-0.67V-1 M0,0.67V1 M-0.83,0H0.83",
    "symbolStrokeColor":"#333333","symbolStrokeWidth":1.3,"symbolOpacity":1}}}},
{"transform":[{"filter":"isValid(datum.med)"}],"mark":{"type":"bar","stroke":"#1a1a1a","strokeWidth":2.5,"fill":"#1a1a1a"},
 "encoding":{"x":{"field":"cond","type":"nominal","sort":["bl","slow","fast"]},"xOffset":{"field":"sent","type":"nominal"},
  "y":{"field":"med","type":"quantitative","title":"Articulation Rate (ph/sec)"},"y2":{"field":"med"}}},
{"transform":[{"filter":"isValid(datum.rate)"}],"mark":{"type":"square","filled":true,"color":"black","size":12,"opacity":1},
 "encoding":{"x":{"field":"cond","type":"nominal","sort":["bl","slow","fast"]},"xOffset":{"field":"tok","type":"ordinal"},
  "y":{"field":"rate","type":"quantitative","title":"Articulation Rate (ph/sec)"}}}
]
},
"config":{"font":"Liberation Sans","view":{"stroke":"black","strokeWidth":1.5},"axis":{"grid":false}}
}
